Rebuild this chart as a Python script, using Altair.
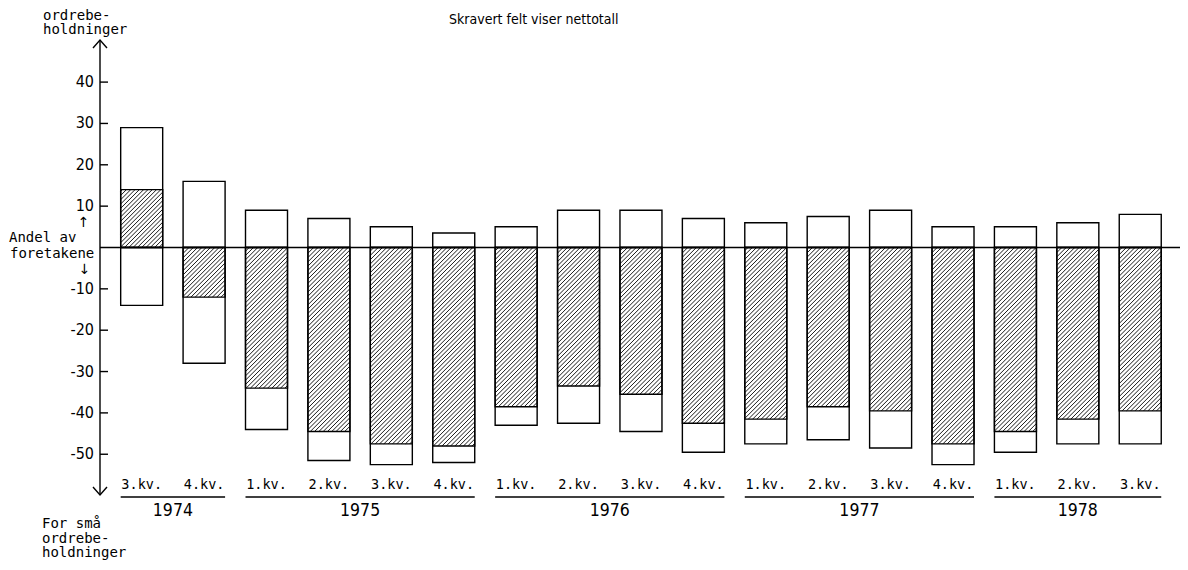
import altair as alt
import pandas as pd
import numpy as np

# ---------------- data ----------------
quarters = ["3.kv.", "4.kv.", "1.kv.", "2.kv.", "3.kv.", "4.kv.", "1.kv.", "2.kv.", "3.kv.",
            "4.kv.", "1.kv.", "2.kv.", "3.kv.", "4.kv.", "1.kv.", "2.kv.", "3.kv."]
years = ["1974", "1974", "1975", "1975", "1975", "1975", "1976", "1976", "1976",
         "1976", "1977", "1977", "1977", "1977", "1978", "1978", "1978"]
positive = [29, 16, 9, 7, 5, 3.5, 5, 9, 9, 7, 6, 7.5, 9, 5, 5, 6, 8]
negative = [-14, -28, -44, -51.5, -52.5, -52, -43, -42.5, -44.5, -49.5, -47.5, -46.5,
            -48.5, -52.5, -49.5, -47.5, -47.5]
net = [14, -12, -34, -44.5, -47.5, -48, -38.5, -33.5, -35.5, -42.5, -41.5, -38.5,
       -39.5, -47.5, -44.5, -41.5, -39.5]
ticks = [40, 30, 20, 10, -10, -20, -30, -40, -50]

# ---------------- layout constants ----------------
W, H = 1172, 554
XD = [-2.142, 16.637]
YD = [-76.06, 57.92]
HW = 0.3365  # half bar width in category units
MONO = "DejaVu Sans Mono"
NARROW = "Liberation Sans Narrow, DejaVu Sans Condensed, Arial Narrow, sans-serif"

xs = alt.Scale(domain=XD, nice=False, zero=False)
ys = alt.Scale(domain=YD, nice=False, zero=False)

df = pd.DataFrame({"idx": list(range(len(quarters))), "quarter": quarters, "year": years,
                   "pos": positive, "neg": negative, "net": net})
base = alt.Chart(df).transform_calculate(xa=f"datum.idx - {HW}", xb=f"datum.idx + {HW}")

def rects(field, **kw):
    return base.mark_rect(stroke="black", strokeWidth=1.4, **kw).encode(
        x=alt.X("xa:Q", scale=xs, axis=None), x2="xb:Q",
        y=alt.Y(f"{field}:Q", scale=ys, axis=None), y2=alt.datum(0))

pos_bars = rects("pos", fill="white")
neg_bars = rects("neg", fill="white")
net_outline = rects("net", fill="transparent")

# hatch texture for the net part (45 degree lines in pixel space)
PX_X = W / (XD[1] - XD[0])
PX_Y = H / (YD[1] - YD[0])
STEP = 4.3
hx, hy, hx2, hy2 = [], [], [], []
for i, n in enumerate(net):
    X0, X1 = (i - HW) * PX_X, (i + HW) * PX_X
    Ylo, Yhi = min(0, n) * PX_Y, max(0, n) * PX_Y
    c = np.floor((Ylo - X1) / STEP) * STEP
    while c <= Yhi - X0:
        xs_ = max(X0, Ylo - c)
        xe_ = min(X1, Yhi - c)
        if xe_ - xs_ > 0.4:
            hx.append(xs_ / PX_X); hy.append((xs_ + c) / PX_Y)
            hx2.append(xe_ / PX_X); hy2.append((xe_ + c) / PX_Y)
        c += STEP
hatch_df = pd.DataFrame({"hx": hx, "hy": hy, "hx2": hx2, "hy2": hy2})
hatch = alt.Chart(hatch_df).mark_rule(stroke="black", strokeWidth=0.9).encode(
    x=alt.X("hx:Q", scale=xs, axis=None), y=alt.Y("hy:Q", scale=ys, axis=None),
    x2="hx2:Q", y2="hy2:Q")

one = alt.Chart(pd.DataFrame({"z": [0]}))

zero_line = one.mark_rule(stroke="black", strokeWidth=1.7).encode(
    x=alt.value(92), x2=alt.value(W), y=alt.Y("z:Q", scale=ys, axis=None))

axis_line = one.mark_rule(stroke="black", strokeWidth=1.4).encode(
    x=alt.value(92), y=alt.value(32), y2=alt.value(487))
arrow_up = one.mark_point(shape="M-1,1.15L0,0L1,1.15", size=196, filled=False,
                          stroke="black", strokeWidth=1.4, opacity=1).encode(
    x=alt.value(92), y=alt.value(32))
arrow_dn = one.mark_point(shape="M-1,-1.15L0,0L1,-1.15", size=196, filled=False,
                          stroke="black", strokeWidth=1.4, opacity=1).encode(
    x=alt.value(92), y=alt.value(487))

tick_df = pd.DataFrame({"t": ticks, "lab": [str(t) for t in ticks]})
tick_rules = alt.Chart(tick_df).mark_rule(stroke="black", strokeWidth=1.4).encode(
    x=alt.value(92), x2=alt.value(100), y=alt.Y("t:Q", scale=ys, axis=None))
tick_labels = alt.Chart(tick_df).mark_text(font=NARROW, fontSize=16, align="right",
                                           baseline="middle", color="black").encode(
    x=alt.value(86), y=alt.Y("t:Q", scale=ys, axis=None), text="lab:N")

q_labels = base.mark_text(font=MONO, fontSize=13.5, baseline="middle", color="black").encode(
    x=alt.X("idx:Q", scale=xs, axis=None), y=alt.value(476.5), text="quarter:N")
year_rules = base.mark_rule(stroke="black", strokeWidth=1.3).encode(
    x=alt.X("min(xa):Q", scale=xs, axis=None), x2="max(xb):Q", y=alt.value(489),
    detail="year:N")
year_labels = base.mark_text(font=NARROW, fontSize=17.5, baseline="middle", color="black").encode(
    x=alt.X("mean(idx):Q", scale=xs, axis=None), y=alt.value(503), text="year:N")

def label(txt, x, y, font=MONO, size=14, align="left"):
    return one.mark_text(font=font, fontSize=size, align=align, baseline="middle",
                         color="black").encode(x=alt.value(x), y=alt.value(y),
                                               text=alt.value(txt))

annots = [
    label("ordrebe-", 35, 8),
    label("holdninger", 35, 22),
    label("Skravert felt viser nettotall", 441, 12, font=NARROW, size=14),
    label("Andel av", 1, 230),
    label("foretakene", 2, 246),
    label("↑", 75.5, 215, font="DejaVu Sans", size=14, align="center"),
    label("↓", 76.5, 262, font="DejaVu Sans", size=14, align="center"),
    label("For små", 34, 516),
    label("ordrebe-", 34, 531),
    label("holdninger", 34, 545),
]

chart = alt.layer(
    pos_bars, neg_bars, hatch, net_outline, zero_line, axis_line, arrow_up, arrow_dn,
    tick_rules, tick_labels, q_labels, year_rules, year_labels, *annots
).properties(
    width=W, height=H, padding=0, autosize=alt.AutoSizeParams(type="none"),
    background="white"
).configure_view(stroke=None)

chart.save("out.html", embed_options={"renderer": "svg", "actions": False})
